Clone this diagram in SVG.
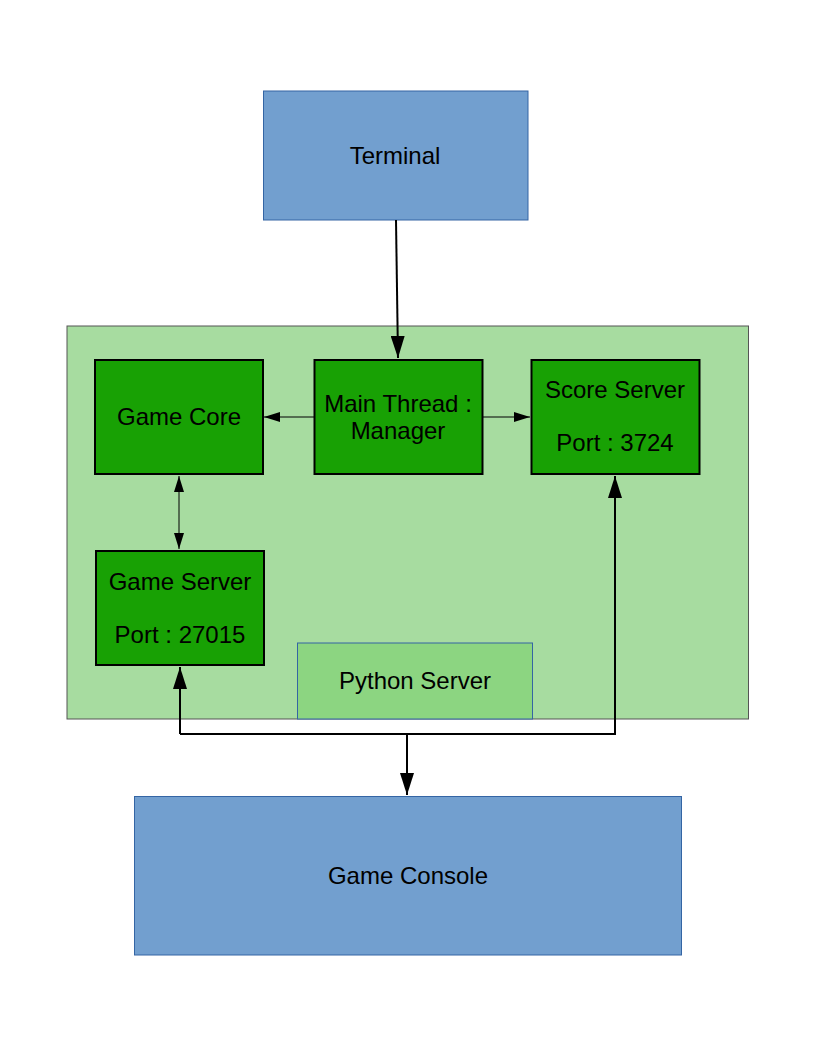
<svg xmlns="http://www.w3.org/2000/svg" width="816" height="1056" viewBox="0 0 816 1056">
<style>
.blue{fill:#729fcf;stroke:#3465a4;stroke-width:1}
.cont{fill:#a7dca0;stroke:#555;stroke-width:1}
.py{fill:#8cd581;stroke:#3465a4;stroke-width:1}
.node{fill:#18a104;stroke:#000;stroke-width:2}
text{font-family:"Liberation Sans",Arial,sans-serif;font-size:24px;fill:#000;text-anchor:middle}
.thin{stroke:#000;stroke-width:1;fill:none}
.thick{stroke:#000;stroke-width:2;fill:none}
</style>
<defs>
<marker id="ah" viewBox="0 0 16 10" refX="16" refY="5" markerWidth="16" markerHeight="10" markerUnits="userSpaceOnUse" orient="auto"><path d="M0,0 L16,5 L0,10 Z" fill="#000"/></marker>
<marker id="ahs" viewBox="0 0 16 10" refX="0" refY="5" markerWidth="16" markerHeight="10" markerUnits="userSpaceOnUse" orient="auto"><path d="M16,0 L0,5 L16,10 Z" fill="#000"/></marker>
<marker id="bh" viewBox="0 0 22 14" refX="22" refY="7" markerWidth="22" markerHeight="14" markerUnits="userSpaceOnUse" orient="auto"><path d="M0,0 L22,7 L0,14 Z" fill="#000"/></marker>
</defs>
<g id="terminal"><rect class="blue" x="263.5" y="91" width="264.5" height="129"/><text x="395" y="164">Terminal</text></g>
<g id="container"><rect class="cont" x="67" y="326" width="681.5" height="393"/></g>
<g id="python-server"><rect class="py" x="297.5" y="643" width="235" height="76"/><text x="415" y="689">Python Server</text></g>
<g id="game-core"><rect class="node" x="95" y="360" width="168" height="114"/><text x="179" y="425">Game Core</text></g>
<g id="main-thread"><rect class="node" x="314.5" y="360" width="168" height="114"/><text x="398" y="412">Main Thread :</text><text x="398" y="439">Manager</text></g>
<g id="score-server"><rect class="node" x="531.5" y="360" width="168" height="114"/><text x="615" y="398">Score Server</text><text x="615" y="451">Port : 3724</text></g>
<g id="game-server"><rect class="node" x="96" y="551" width="168" height="114"/><text x="180" y="590">Game Server</text><text x="180" y="643">Port : 27015</text></g>
<g id="game-console"><rect class="blue" x="134.5" y="796.5" width="547" height="158.5"/><text x="408" y="884">Game Console</text></g>
<g id="connectors">
<path class="thick" d="M396,220 L398,358" marker-end="url(#bh)"/>
<path class="thin" d="M314,417 L264,417" marker-end="url(#ah)"/>
<path class="thin" d="M483,417 L530,417" marker-end="url(#ah)"/>
<path class="thin" d="M179,476 L179,549" marker-start="url(#ahs)" marker-end="url(#ah)"/>
<path class="thick" d="M180,734 L180,667" marker-end="url(#bh)"/>
<path class="thick" d="M180,734 L615,734 L615,476" marker-end="url(#bh)"/>
<path class="thick" d="M407,734 L407,795" marker-end="url(#bh)"/>
</g>
</svg>
